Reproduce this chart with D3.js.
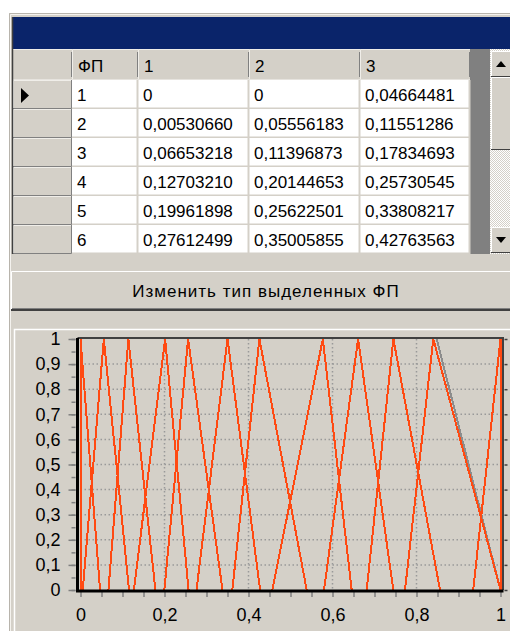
<!DOCTYPE html>
<html>
<head>
<meta charset="utf-8">
<script src="https://cdn.jsdelivr.net/npm/d3@7"></script>
<style>
  html, body { margin: 0; padding: 0; background: #fff; overflow: hidden; }
  svg { display: block; font-family: "Liberation Sans", Arial, sans-serif; }
</style>
</head>
<body>
<svg id="view" width="510" height="631"></svg>
<script>
// ---- Membership functions (triangular: left foot a, peak b, right foot c) ----
// Rows listed in the table
const fpIds  = [1, 2, 3, 4, 5, 6];
const pointA = [0, 0.00530660, 0.06653218, 0.12703210, 0.19961898, 0.27612499];
const pointB = [0, 0.05556183, 0.11396873, 0.20144653, 0.25622501, 0.35005855];
const pointC = [0.04664481, 0.11551286, 0.17834693, 0.25730545, 0.33808217, 0.42763563];
// Remaining functions (rows 7..12, scrolled out of the table)
const restA  = [0.3614, 0.4567, 0.5798, 0.6814, 0.7726, 0.9350];
const restB  = [0.4260, 0.5770, 0.6610, 0.7450, 0.8400, 1.0000];
const restC  = [0.5386, 0.6457, 0.7448, 0.8560, 1.0000, 1.0000];
// Highlighted (grey) copy of the right flank of function 11
const greyA  = [0.848];
const greyC  = [1.0];

const columnHeaders = ["ФП", "1", "2", "3"];
const yTickValues = [0, 0.1, 0.2, 0.3, 0.4, 0.5, 0.6, 0.7, 0.8, 0.9, 1];
const xTickValues = [0, 0.2, 0.4, 0.6, 0.8, 1];
const buttonLabel = "Изменить тип выделенных ФП";

const FACE = "#d4d0c8", DARK = "#808080", DARKER = "#404040", LIGHT = "#ffffff";
const svg = d3.select("#view");

// ---------- window frame ----------
svg.append("rect").attr("x", 0).attr("y", 0).attr("width", 510).attr("height", 631).attr("fill", "#fff");
svg.append("rect").attr("x", 9).attr("y", 13).attr("width", 501).attr("height", 618).attr("fill", FACE);
svg.append("path").attr("d", "M9.5,631V13.5H510").attr("fill", "none").attr("stroke", "#b8b4ac");
svg.append("path").attr("d", "M10.5,631V14.5H510").attr("fill", "none").attr("stroke", "#f4f2ee");

// ---------- grid ----------
const gridTop = 17, headerTop = 49, headerH = 31, rowH = 29, gridBottom = 254;
const colX = [12, 72, 138, 249, 360, 470];   // boundaries: row header, ФП, 1, 2, 3
svg.append("rect").attr("x", 12).attr("y", gridTop).attr("width", 498).attr("height", headerTop - gridTop)
  .attr("fill", "#0a246a");
// grey background right of the columns
svg.append("rect").attr("x", 470).attr("y", headerTop).attr("width", 20).attr("height", gridBottom - headerTop)
  .attr("fill", DARK);

// header row
const headerG = svg.append("g");
const hdrCells = d3.range(colX.length - 1).map(i => ({ x0: colX[i], x1: colX[i + 1], label: i === 0 ? "" : columnHeaders[i - 1] }));
headerG.selectAll("rect").data(hdrCells).join("rect")
  .attr("x", d => d.x0).attr("y", headerTop).attr("width", d => d.x1 - d.x0).attr("height", headerH)
  .attr("fill", FACE);
headerG.selectAll("path.sep").data(hdrCells).join("path").attr("class", "sep")
  .attr("d", d => `M${d.x1 - 0.5},${headerTop + 3}V${headerTop + headerH - 3}`)
  .attr("stroke", DARK).attr("stroke-width", 1);
headerG.selectAll("path.hi").data(hdrCells).join("path").attr("class", "hi")
  .attr("d", d => `M${d.x0 + 0.5},${headerTop + headerH - 1}V${headerTop + 0.5}H${d.x1}`)
  .attr("stroke", "#f0eee9").attr("fill", "none");
headerG.selectAll("text").data(hdrCells).join("text")
  .attr("x", d => d.x0 + 6).attr("y", headerTop + 23)
  .attr("font-size", 17).attr("fill", "#000").text(d => d.label);
svg.append("path").attr("d", `M12,${headerTop + headerH - 0.5}H470`).attr("stroke", "#e6e3de");

// data rows
const fmtCell = v => v === 0 ? "0" : d3.format(".8f")(v).replace(".", ",");
const rows = fpIds.map((id, i) => ({ id, vals: [pointA[i], pointB[i], pointC[i]], i }));
const rowG = svg.append("g").selectAll("g").data(rows).join("g")
  .attr("transform", d => `translate(0,${headerTop + headerH + d.i * rowH})`);
// row header cell
rowG.append("rect").attr("x", 12).attr("y", 0).attr("width", 60).attr("height", rowH).attr("fill", FACE);
rowG.append("path").attr("d", `M13.5,${rowH - 1}V0.5H71`).attr("stroke", "#f0eee9").attr("fill", "none");
rowG.append("path").attr("d", `M13,${rowH - 0.5}H71.5V0`).attr("stroke", DARK).attr("fill", "none");
// white value cells
rowG.append("rect").attr("x", 72).attr("y", 0).attr("width", 398).attr("height", rowH).attr("fill", "#fff");
rowG.selectAll("path.vline").data(colX.slice(2)).join("path").attr("class", "vline")
  .attr("d", x => `M${x - 0.5},0V${rowH}`).attr("stroke", FACE).attr("stroke-width", 2);
rowG.append("path").attr("d", `M72,${rowH - 0.5}H470`).attr("stroke", FACE).attr("stroke-width", 2);
rowG.selectAll("text").data(d => [String(d.id)].concat(d.vals.map(fmtCell)))
  .join("text")
  .attr("x", (d, j) => colX[j + 1] + 5).attr("y", 21)
  .attr("font-size", 17).attr("fill", "#000").text(d => d);
// current-row marker
svg.append("path").attr("d", "M21,88L29,95.5L21,103Z").attr("fill", "#000");

// grid outer sunken border
svg.append("path").attr("d", `M12.5,${gridBottom}V${gridTop}`).attr("stroke", DARKER).attr("stroke-width", 1.5);
svg.append("path").attr("d", `M12,${gridBottom + 0.5}H510`).attr("stroke", FACE);

// ---------- vertical scrollbar ----------
const sbX = 490, sbW = 20;
const pat = svg.append("defs").append("pattern").attr("id", "track")
  .attr("width", 2).attr("height", 2).attr("patternUnits", "userSpaceOnUse");
pat.append("rect").attr("width", 2).attr("height", 2).attr("fill", "#fff");
pat.append("rect").attr("width", 1).attr("height", 1).attr("fill", FACE);
pat.append("rect").attr("x", 1).attr("y", 1).attr("width", 1).attr("height", 1).attr("fill", FACE);
svg.append("rect").attr("x", sbX).attr("y", headerTop).attr("width", sbW).attr("height", gridBottom - headerTop)
  .attr("fill", "url(#track)");
const sbButtons = [
  { y0: 51, y1: 77, arrow: "up" },
  { y0: 77, y1: 150, arrow: null },
  { y0: 227, y1: 253, arrow: "down" }
];
const sbG = svg.append("g").selectAll("g").data(sbButtons).join("g");
sbG.append("rect").attr("x", sbX + 1).attr("y", d => d.y0).attr("width", sbW - 1).attr("height", d => d.y1 - d.y0)
  .attr("fill", FACE);
sbG.append("path").attr("d", d => `M${sbX + 1.5},${d.y1 - 1}V${d.y0 + 0.5}H510`).attr("stroke", LIGHT).attr("fill", "none");
sbG.append("path").attr("d", d => `M${sbX + 1},${d.y1 - 0.5}H510`).attr("stroke", DARKER).attr("fill", "none");
sbG.filter(d => d.arrow).append("path")
  .attr("d", d => {
    const cx = sbX + 11, cy = (d.y0 + d.y1) / 2;
    return d.arrow === "up"
      ? `M${cx - 5},${cy + 3}L${cx + 5},${cy + 3}L${cx},${cy - 3}Z`
      : `M${cx - 5},${cy - 3}L${cx + 5},${cy - 3}L${cx},${cy + 3}Z`;
  }).attr("fill", "#000");

// ---------- button ----------
const btn = { x: 11, y: 271, w: 499, h: 40 };
svg.append("rect").attr("x", btn.x).attr("y", btn.y).attr("width", btn.w).attr("height", btn.h).attr("fill", FACE);
svg.append("path").attr("d", `M${btn.x + 0.5},${btn.y + btn.h - 1}V${btn.y + 0.5}H510`).attr("stroke", LIGHT).attr("fill", "none");
svg.append("path").attr("d", `M${btn.x},${btn.y + btn.h - 1}H510`).attr("stroke", DARKER).attr("stroke-width", 2);
svg.append("path").attr("d", `M${btn.x + 1},${btn.y + btn.h - 2.5}H510`).attr("stroke", DARK);
svg.append("text").attr("x", 266).attr("y", btn.y + 26).attr("text-anchor", "middle")
  .attr("font-size", 17).attr("letter-spacing", 1).attr("fill", "#000").text(buttonLabel);

// ---------- chart panel ----------
svg.append("path").attr("d", "M14.5,631V329.5H510").attr("stroke", LIGHT).attr("stroke-width", 1.5).attr("fill", "none");

const plot = { left: 80.5, right: 500.5, top: 339, bottom: 590 };
const x = d3.scaleLinear().domain([0, 1]).range([plot.left, plot.right]);
const y = d3.scaleLinear().domain([0, 1]).range([plot.bottom, plot.top]);
const ru = d3.formatLocale({ decimal: ",", thousands: " ", grouping: [3], currency: ["", ""] });
const fmtTick = ru.format("~g");

// dotted grid
const gridG = svg.append("g").attr("stroke", "#999").attr("stroke-width", 1.5).attr("stroke-dasharray", "1.5,2.5");
gridG.selectAll("line.h").data(yTickValues.filter(v => v > 0 && v < 1)).join("line").attr("class", "h")
  .attr("x1", plot.left).attr("x2", plot.right).attr("y1", d => y(d)).attr("y2", d => y(d));
gridG.selectAll("line.v").data(xTickValues.filter(v => v > 0 && v < 1)).join("line").attr("class", "v")
  .attr("x1", d => x(d)).attr("x2", d => x(d)).attr("y1", plot.top).attr("y2", plot.bottom);

// minor and major tick marks
const yMinor = d3.range(0, 21).map(i => i / 20);
const xMinor = d3.range(0, 21).map(i => i / 20);
svg.append("g").attr("transform", `translate(${plot.left - 5},0)`)
  .call(d3.axisLeft(y).tickValues(yMinor).tickSize(4).tickFormat(""))
  .call(g => g.select(".domain").remove())
  .selectAll("line").attr("stroke", DARK).attr("stroke-width", 1.5);
svg.append("g").attr("transform", `translate(${plot.left - 5},0)`)
  .call(d3.axisLeft(y).tickValues(yTickValues).tickSize(7).tickFormat(""))
  .call(g => g.select(".domain").remove())
  .selectAll("line").attr("stroke", DARK).attr("stroke-width", 1.5);
svg.append("g").attr("transform", `translate(${plot.right + 4},0)`)
  .call(d3.axisRight(y).tickValues(yTickValues).tickSize(3).tickFormat(""))
  .call(g => g.select(".domain").remove())
  .selectAll("line").attr("stroke", DARKER).attr("stroke-width", 1.5);
svg.append("g").attr("transform", `translate(0,${plot.bottom + 2})`)
  .call(d3.axisBottom(x).tickValues(xMinor).tickSize(5).tickFormat(""))
  .call(g => g.select(".domain").remove())
  .selectAll("line").attr("stroke", DARK).attr("stroke-width", 1.5);

// tick labels
svg.append("g").attr("transform", `translate(${plot.left - 20},0)`)
  .call(d3.axisLeft(y).tickValues(yTickValues).tickSize(0).tickPadding(0).tickFormat(fmtTick))
  .call(g => g.select(".domain").remove())
  .selectAll("text").attr("font-size", 18).attr("font-family", "Liberation Sans, Arial, sans-serif").attr("fill", "#000");
svg.append("g").attr("transform", `translate(0,${plot.bottom + 18})`)
  .call(d3.axisBottom(x).tickValues(xTickValues).tickSize(0).tickPadding(0).tickFormat(fmtTick))
  .call(g => g.select(".domain").remove())
  .selectAll("text").attr("font-size", 18).attr("font-family", "Liberation Sans, Arial, sans-serif").attr("fill", "#000");

// frame: top and right edges
svg.append("path").attr("d", `M${plot.left - 3},${plot.top - 1}H${plot.right + 2.5}V${plot.bottom}`)
  .attr("stroke", DARKER).attr("stroke-width", 2).attr("fill", "none");

// membership function polylines
const mfs = d3.range(pointA.length).map(i => [pointA[i], pointB[i], pointC[i]])
  .concat(d3.range(restA.length).map(i => [restA[i], restB[i], restC[i]]));
const line = d3.line().x(d => x(d[0])).y(d => y(d[1]));
svg.append("g").selectAll("path").data(greyA.map((a, i) => [[a, 1], [greyC[i], 0]])).join("path")
  .attr("d", line).attr("fill", "none").attr("stroke", "#8c8c8c").attr("stroke-width", 2)
  .attr("shape-rendering", "crispEdges");
svg.append("g").selectAll("path").data(mfs.map(t => [[t[0], 0], [t[1], 1], [t[2], 0]])).join("path")
  .attr("d", line).attr("fill", "none").attr("stroke", "#ff4a12").attr("stroke-width", 2)
  .attr("stroke-linejoin", "miter").attr("shape-rendering", "crispEdges");

// thick axis lines on the left and bottom
svg.append("path").attr("d", `M${plot.left - 3},${plot.top - 1}V${plot.bottom + 1}H${plot.right + 3}`)
  .attr("stroke", "#000").attr("stroke-width", 3).attr("fill", "none");
</script>
</body>
</html>
